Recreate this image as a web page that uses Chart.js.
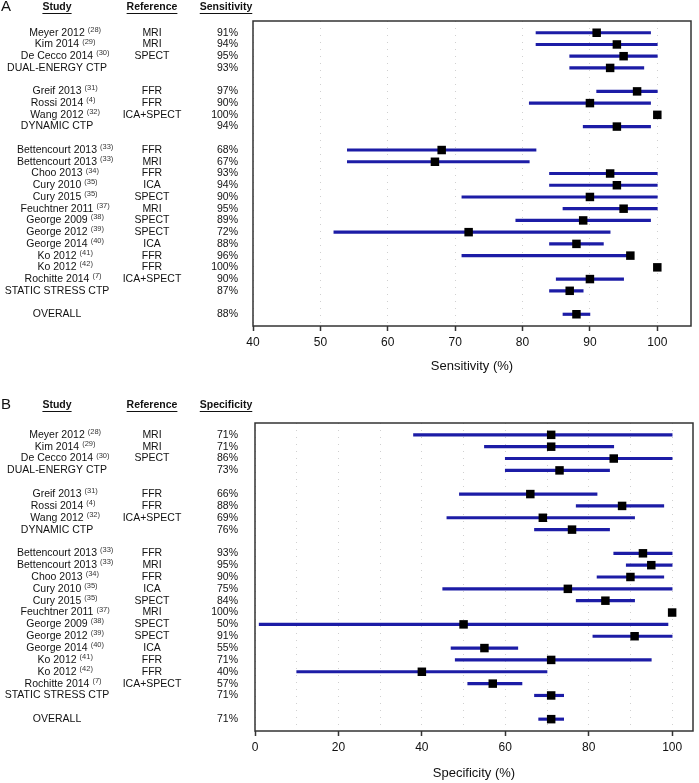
<!DOCTYPE html>
<html lang="en">
<head>
    <meta charset="UTF-8">
    <title>CTP forest plots</title>
    <script src="https://cdn.jsdelivr.net/npm/chart.js"></script>
    <style>
        body { margin: 0; background: #fff; }
        canvas { display: block; }
    </style>
</head>
<body>
    <canvas id="chartA" width="699" height="380"></canvas>
    <canvas id="chartB" width="699" height="403"></canvas>
    <script>
        // rows, null = empty spacer row
        const studies = ['Meyer 2012', 'Kim 2014', 'De Cecco 2014', 'DUAL-ENERGY CTP', null,
            'Greif 2013', 'Rossi 2014', 'Wang 2012', 'DYNAMIC CTP', null,
            'Bettencourt 2013', 'Bettencourt 2013', 'Choo 2013', 'Cury 2010', 'Cury 2015', 'Feuchtner 2011',
            'George 2009', 'George 2012', 'George 2014', 'Ko 2012', 'Ko 2012', 'Rochitte 2014', 'STATIC STRESS CTP', null,
            'OVERALL'];
        const cites = ['(28)', '(29)', '(30)', '', null,
            '(31)', '(4)', '(32)', '', null,
            '(33)', '(33)', '(34)', '(35)', '(35)', '(37)', '(38)', '(39)', '(40)', '(41)', '(42)', '(7)', '', null,
            ''];
        const standards = ['MRI', 'MRI', 'SPECT', '', null,
            'FFR', 'FFR', 'ICA+SPECT', '', null,
            'FFR', 'MRI', 'FFR', 'ICA', 'SPECT', 'MRI', 'SPECT', 'SPECT', 'ICA', 'FFR', 'FFR', 'ICA+SPECT', '', null,
            ''];

        const sensEst = [91, 94, 95, 93, null, 97, 90, 100, 94, null, 68, 67, 93, 94, 90, 95, 89, 72, 88, 96, 100, 90, 87, null, 88];
        const sensLo  = [82, 82, 87, 87, null, 91, 81, 100, 89, null, 54, 54, 84, 84, 71, 86, 79, 52, 84, 71, 100, 85, 84, null, 86];
        const sensHi  = [99, 100, 100, 98, null, 100, 99, 100, 99, null, 82, 81, 100, 100, 100, 100, 99, 93, 92, 96, 100, 95, 89, null, 90];

        const specEst = [71, 71, 86, 73, null, 66, 88, 69, 76, null, 93, 95, 90, 75, 84, 100, 50, 91, 55, 71, 40, 57, 71, null, 71];
        const specLo  = [38, 55, 60, 60, null, 49, 77, 46, 67, null, 86, 89, 82, 45, 77, 100, 1, 81, 47, 48, 10, 51, 67, null, 68];
        const specHi  = [100, 86, 100, 85, null, 82, 98, 91, 85, null, 100, 100, 98, 100, 91, 100, 99, 100, 63, 95, 70, 64, 74, null, 74];

        const FONT = '"Liberation Sans", Arial, sans-serif';

        // left-hand table drawn next to the plot, rows follow the y scale
        const tablePlugin = {
            id: 'tablePlugin',
            afterDraw(chart, args, opts) {
                const ctx = chart.ctx;
                const y = chart.scales.y;
                const area = chart.chartArea;
                ctx.save();

                // frame round the plot
                ctx.strokeStyle = '#333';
                ctx.lineWidth = 1.5;
                ctx.strokeRect(area.left, area.top, area.right - area.left, area.bottom - area.top);

                ctx.fillStyle = '#111';
                ctx.textBaseline = 'middle';
                ctx.textAlign = 'left';
                ctx.font = '15px ' + FONT;
                ctx.fillText(opts.letter, 1, opts.headY);

                ctx.font = 'bold 10.5px ' + FONT;
                ctx.textAlign = 'center';
                [['Study', 57], ['Reference', 152], [opts.measure, 226]].forEach(function (h) {
                    ctx.fillText(h[0], h[1], opts.headY);
                    const w = ctx.measureText(h[0]).width;
                    ctx.fillRect(h[1] - w / 2, opts.headY + 6, w, 1);
                });

                studies.forEach(function (s, i) {
                    if (s === null) return;
                    const py = y.getPixelForValue(i);
                    ctx.font = '10.5px ' + FONT;
                    ctx.textAlign = 'center';
                    ctx.fillText(s, 57, py);
                    ctx.fillText(standards[i], 152, py);
                    ctx.textAlign = 'right';
                    ctx.fillText(opts.est[i] + '%', 238, py);
                    if (cites[i]) {
                        const w = ctx.measureText(s).width;
                        ctx.font = '7.5px ' + FONT;
                        ctx.textAlign = 'left';
                        ctx.fillStyle = '#333';
                        ctx.fillText(cites[i], 57 + w / 2 + 3, py - 3);
                        ctx.fillStyle = '#111';
                    }
                });
                ctx.restore();
            }
        };

        function makeForest(id, est, lo, hi, opt) {
            const ciData = [];
            const pointData = [];
            est.forEach(function (v, i) {
                if (v === null) return;
                ciData.push({ x: [lo[i], hi[i]], y: i });
                pointData.push({ x: v, y: i });
            });

            return new Chart(document.getElementById(id), {
                type: 'scatter',
                data: {
                    datasets: [
                        {
                            type: 'bar',
                            indexAxis: 'y',
                            data: ciData,
                            backgroundColor: '#1c1ca6',
                            barThickness: 2.5,
                            order: 2
                        },
                        {
                            data: pointData,
                            pointStyle: 'rect',
                            pointRadius: 6,
                            backgroundColor: '#000',
                            borderColor: '#000',
                            borderWidth: 0,
                            order: 1
                        }
                    ]
                },
                options: {
                    responsive: false,
                    devicePixelRatio: 1,
                    animation: false,
                    events: [],
                    layout: { padding: opt.padding },
                    plugins: {
                        legend: { display: false },
                        tooltip: { enabled: false },
                        tablePlugin: { letter: opt.letter, measure: opt.measure, headY: opt.headY, est: est }
                    },
                    scales: {
                        x: {
                            type: 'linear',
                            min: opt.min,
                            max: 105,
                            offset: false,
                            afterFit: function (scale) { scale.height = opt.axisHeight; },
                            ticks: {
                                stepSize: 10,
                                includeBounds: false,
                                autoSkip: false,
                                maxRotation: 0,
                                padding: 4,
                                color: '#111',
                                font: { family: FONT, size: 12 },
                                callback: function (v) { return v % opt.labelStep === 0 ? v : ''; }
                            },
                            grid: {
                                color: '#d0d0d0',
                                lineWidth: 1,
                                offset: false,
                                drawTicks: true,
                                tickLength: 5,
                                tickWidth: 1.5,
                                tickBorderDash: [],
                                tickColor: function (c) {
                                    return c.tick && c.tick.value % opt.labelStep === 0 ? '#333' : 'rgba(0,0,0,0)';
                                }
                            },
                            border: { display: false, dash: [1, 6] },
                            title: {
                                display: true,
                                text: opt.title,
                                color: '#111',
                                font: { family: FONT, size: 13 },
                                padding: { top: 0, bottom: opt.titlePad }
                            }
                        },
                        y: {
                            type: 'linear',
                            min: -1,
                            max: 25,
                            reverse: true,
                            offset: false,
                            grid: { offset: false },
                            display: false
                        }
                    }
                },
                plugins: [tablePlugin]
            });
        }

        makeForest('chartA', sensEst, sensLo, sensHi, {
            letter: 'A', measure: 'Sensitivity', title: 'Sensitivity (%)', headY: 7,
            min: 40, labelStep: 10, axisHeight: 54, titlePad: 6,
            padding: { left: 253, right: 8, top: 21, bottom: 0 }
        });
        makeForest('chartB', specEst, specLo, specHi, {
            letter: 'B', measure: 'Specificity', title: 'Specificity (%)', headY: 25,
            min: 0, labelStep: 20, axisHeight: 52, titlePad: 2,
            padding: { left: 255, right: 4, top: 43, bottom: 0 }
        });
    </script>
</body>
</html>
